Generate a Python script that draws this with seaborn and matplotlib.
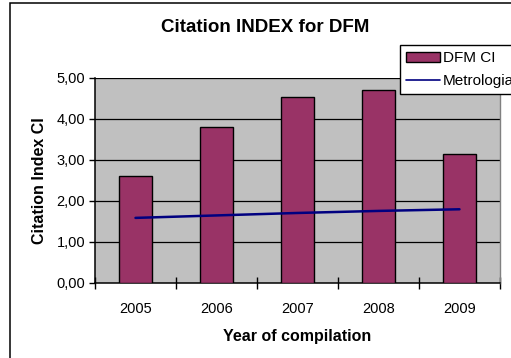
import numpy as np
import pandas as pd
import matplotlib
matplotlib.use("Agg")
import matplotlib.pyplot as plt
from matplotlib.patches import Rectangle, Patch
from matplotlib.lines import Line2D
import seaborn as sns

years = ["2005", "2006", "2007", "2008", "2009"]
dfm_ci = [2.60, 3.80, 4.52, 4.69, 3.13]
metrologia = [1.58, 1.64, 1.70, 1.75, 1.79]
y_ticks = [0, 1, 2, 3, 4, 5]
y_tick_labels = ["0,00", "1,00", "2,00", "3,00", "4,00", "5,00"]

BAR_COLOR = "#993366"
LINE_COLOR = "#000080"

sns.set_theme(style="white")
plt.rcParams["font.family"] = ["Liberation Sans", "DejaVu Sans"]
plt.rcParams["text.color"] = "black"
plt.rcParams["axes.labelcolor"] = "black"
plt.rcParams["xtick.color"] = "black"
plt.rcParams["ytick.color"] = "black"

W, H = 511, 358
fig = plt.figure(figsize=(W / 100, H / 100), dpi=100)
fig.patch.set_facecolor("white")

# chart frame
fig.patches.append(Rectangle((10 / W, -0.2), 1.2, 1.2 - 2.5 / H, transform=fig.transFigure,
                             fill=False, edgecolor="black", linewidth=1.1, clip_on=False))

ax = fig.add_axes([95 / W, 1 - 282.7 / H, (500 - 95) / W, (282.7 - 77.6) / H])
ax.set_facecolor("#C0C0C0")

df = pd.DataFrame({"year": years, "DFM CI": dfm_ci, "Metrologia": metrologia})
df["pos"] = np.arange(len(years))

sns.barplot(data=df, x="year", y="DFM CI", color=BAR_COLOR, saturation=1, width=0.4,
            edgecolor="black", linewidth=1.0, ax=ax, zorder=3)
sns.lineplot(data=df, x="pos", y="Metrologia", color=LINE_COLOR, linewidth=1.8, ax=ax,
             zorder=4, legend=False)
if ax.get_legend() is not None:
    ax.get_legend().remove()

ax.set_xlim(-0.5, 4.5)
ax.set_ylim(0, 5)
ax.set_yticks(y_ticks)
ax.set_yticklabels(y_tick_labels, fontsize=10.5)
for y in y_ticks[1:]:
    ax.axhline(y, color="black", linewidth=0.9, zorder=1)

ax.set_xticks(np.arange(-0.5, 5, 1))
ax.set_xticklabels([])
ax.set_xticks(np.arange(5), minor=True)
ax.set_xticklabels(years, minor=True, fontsize=10.5)
ax.tick_params(axis="x", which="major", direction="inout", length=8, width=1, color="black", bottom=True)
ax.tick_params(axis="x", which="minor", length=0, pad=14)
ax.tick_params(axis="y", direction="out", length=4, width=1, color="black", left=True, pad=3)

for side in ["left", "bottom"]:
    ax.spines[side].set_color("black")
    ax.spines[side].set_linewidth(1.1)
ax.spines["top"].set_visible(False)
ax.spines["right"].set_color("#808080")
ax.spines["right"].set_linewidth(1.0)

ax.set_xlabel("Year of compilation", fontsize=11.5, fontweight="bold", labelpad=9)
ax.set_ylabel("Citation Index CI", fontsize=11.5, fontweight="bold", labelpad=7)

fig.text(265 / W, 1 - 28 / H, "Citation INDEX for DFM", ha="center", va="center",
         fontsize=13.5, fontweight="bold")

handles = [Patch(facecolor=BAR_COLOR, edgecolor="black", linewidth=1.0),
           Line2D([0], [0], color=LINE_COLOR, linewidth=1.2)]
labels = ["DFM CI", "Metrologia"]
leg = fig.legend(handles, labels, loc="upper left", bbox_to_anchor=(400 / W, 1 - 45 / H),
                 fontsize=11, frameon=True, fancybox=False, framealpha=1, edgecolor="black",
                 borderpad=0.4, handlelength=2.2, handleheight=0.6, handletextpad=0.2,
                 labelspacing=0.6, borderaxespad=0)
leg.get_frame().set_linewidth(1.0)

fig.savefig("out.png", dpi=100)
